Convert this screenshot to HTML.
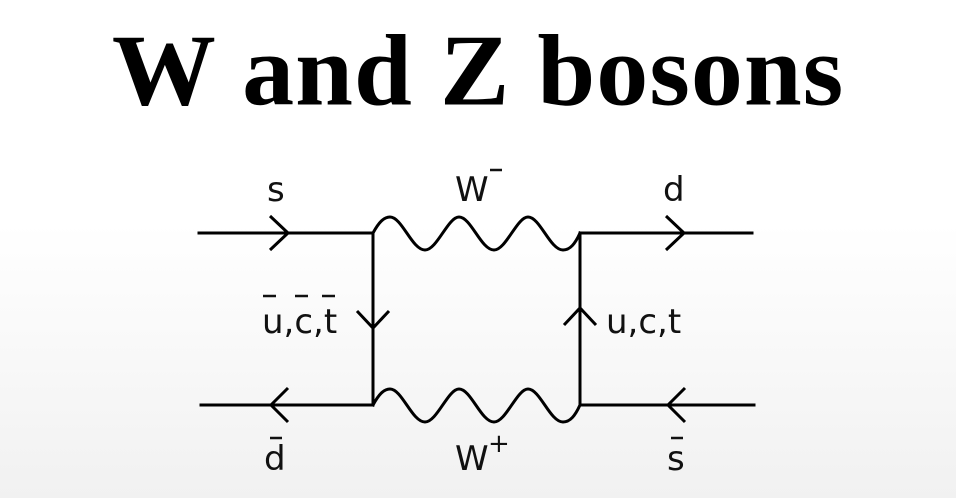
<!DOCTYPE html>
<html><head><meta charset="utf-8"><style>
html,body{margin:0;padding:0}
body{width:956px;height:498px;overflow:hidden;background:linear-gradient(#ffffff 0%,#ffffff 45%,#f1f1f1 100%);position:relative}
.t{position:absolute;left:0;top:16px;width:956px;text-align:center;font-family:"Liberation Serif",serif;font-weight:bold;font-size:100px;line-height:110px;color:#000;letter-spacing:1px}
svg{position:absolute;left:0;top:0}
text{font-family:"DejaVu Sans",sans-serif;font-size:34px;fill:#111}
</style></head><body>
<div class="t"><span style="display:inline-block;transform:scale(1.04,1.02)">W and Z bosons</span></div>
<svg width="956" height="498" viewBox="0 0 956 498">
<g stroke="#000" stroke-width="3" fill="none" stroke-linecap="square">
<line x1="199" y1="233" x2="373" y2="233"/>
<line x1="580" y1="233" x2="752" y2="233"/>
<line x1="201" y1="405" x2="373" y2="405"/>
<line x1="580" y1="405" x2="754" y2="405"/>
<line x1="373" y1="233" x2="373" y2="405"/>
<line x1="580" y1="233" x2="580" y2="405"/>
<path d="M373 233 C379 222,384 217,390 217 C402 217,412 250,425 250 C437 250,448 217,459 217 C471 217,481 250,494 250 C506 250,517 217,528 217 C540 217,550 250,563 250 C570 250,575 244,580 233"/>
<path d="M373 405 C379 394,384 389,390 389 C402 389,412 422,425 422 C437 422,448 389,459 389 C471 389,481 422,494 422 C506 422,517 389,528 389 C540 389,550 422,563 422 C570 422,575 416,580 405"/>
<polyline points="270,216 288,233 270,250" stroke-linecap="butt"/>
<polyline points="666,216 684,233 666,250" stroke-linecap="butt"/>
<polyline points="288,388 271,405 288,422" stroke-linecap="butt"/>
<polyline points="685,388 668,405 685,422" stroke-linecap="butt"/>
<polyline points="357,311 373,328 389,311" stroke-linecap="butt"/>
<polyline points="564,325 580,308 596,325" stroke-linecap="butt"/>
</g>
<text x="267" y="201">s</text>
<text x="455" y="201">W</text>
<line x1="490" y1="170" x2="502" y2="170" stroke="#111" stroke-width="2.5"/>
<text x="663" y="201">d</text>
<text x="262" y="333">u,c,t</text>
<line x1="263" y1="296" x2="276" y2="296" stroke="#111" stroke-width="2.5"/>
<line x1="295" y1="296" x2="308" y2="296" stroke="#111" stroke-width="2.5"/>
<line x1="322" y1="296" x2="335" y2="296" stroke="#111" stroke-width="2.5"/>
<text x="606" y="333">u,c,t</text>
<text x="264" y="470">d</text>
<line x1="270" y1="438" x2="282" y2="438" stroke="#111" stroke-width="2.5"/>
<text x="455" y="470">W</text>
<text x="488" y="452" style="font-size:26px">+</text>
<text x="667" y="470">s</text>
<line x1="671" y1="438" x2="683" y2="438" stroke="#111" stroke-width="2.5"/>
</svg>
</body></html>
